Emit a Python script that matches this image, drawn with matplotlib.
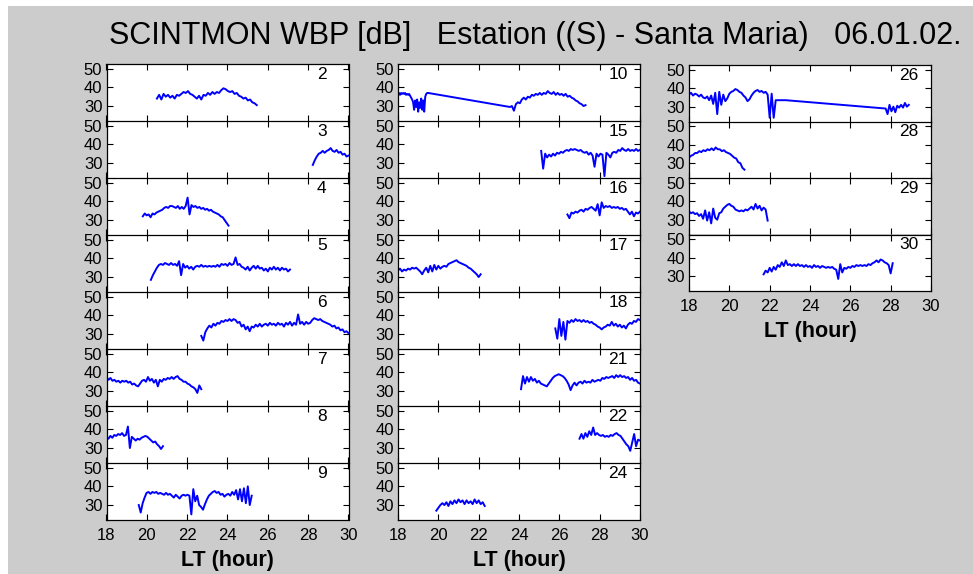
import numpy as np
import matplotlib
matplotlib.use('Agg')
from matplotlib import pyplot as plt
from matplotlib.patches import Rectangle

# SCINTMON WBP traces, one list of (t_start, t_end, dB values) segments per PRN
prn2 = [(20.5, 25.45, [34, 36, 33.5, 36.5, 35, 36, 34.5, 35.5, 34, 36, 35.5, 36.5, 37.5, 37, 38, 36.5, 36, 35,
                       34, 35.5, 33.5, 36, 35.5, 37, 36, 37.5, 36.5, 37.5, 37, 38.5, 39.5, 39, 38, 37.5, 38, 36.5,
                       37, 35.5, 35, 34, 34.5, 33, 33.5, 32, 31.5, 30.5])]
prn3 = [(28.23, 30.0, [29, 31.5, 33.5, 35, 35.5, 36.5, 35.5, 36.5, 37, 38, 36.5, 36, 37, 35.5, 36, 34.5, 35,
                       33.5, 34])]
prn4 = [(19.8, 24.05, [32, 33.5, 32.5, 33, 31.5, 33.5, 33, 34, 34.5, 35, 35.5, 36.5, 37, 36.5, 37.5, 37.5,
                       37, 36.5, 37.5, 36, 37, 36, 37.5, 42, 33, 38, 37, 37.5, 36.5, 37, 36, 36.5, 35.5, 36,
                       35, 35.5, 34.5, 34, 33.5, 33, 32, 31.5, 30, 28.5, 27])]
prn5 = [(20.2, 27.1, [28.5, 31, 33, 35, 36.5, 37, 36.5, 37.5, 37, 36.5, 37.5, 36.5, 37, 36, 38.5, 31, 37, 35,
                      36, 34.5, 35.5, 34, 35.5, 36, 35.5, 36.5, 35.5, 36, 35.5, 36, 35.5, 36, 35.5, 36.5,
                      35.5, 37, 36.5, 37, 36, 37.5, 36.5, 37, 40.5, 36.5, 37, 35.5, 35, 34, 35.5, 33.5, 35,
                      36, 34.5, 36, 34.5, 35, 33.5, 34.5, 33, 35, 34, 35.5, 34, 35, 33.5, 35, 34, 34.5,
                      33, 34])]
prn6 = [(22.7, 30.0, [29, 26.5, 31, 33, 34.5, 33.5, 35.5, 34.5, 36, 35.5, 37, 36.5, 37.5, 37, 38, 37, 38,
                      37.5, 36, 36.5, 34, 35, 32.5, 34, 31.5, 34, 33.5, 35, 34, 35.5, 34, 35, 35.5, 34.5,
                      36, 35, 35.5, 34.5, 36, 35, 35.5, 34, 36, 35, 36.5, 34.5, 36, 35, 40.5, 35.5, 36.5,
                      35, 36.5, 35.5, 36, 37.5, 38.5, 38, 37.5, 38, 37, 36.5, 36, 35.5, 35, 34, 34.5, 33,
                      33.5, 32, 32.5, 31, 31.5, 30.5])]
prn7 = [(18.0, 22.7, [37.5, 36, 37, 35.5, 36, 35, 35.5, 34.5, 35.5, 35, 35.5, 34.5, 35, 33.5, 34, 33, 32.5,
                      34, 35.5, 36, 35, 37.5, 35.5, 36.5, 34.5, 36, 32.5, 36, 35, 36.5, 36, 37, 36.5, 37.5,
                      36.5, 37.5, 38, 36.5, 36, 35, 35, 34, 33.5, 32.5, 32, 31, 29, 33, 31])]
prn8 = [(18.0, 20.8, [36, 35, 36.5, 35.5, 37, 36.5, 37.5, 37, 38, 36.5, 37, 41.5, 30, 36, 35, 34, 35, 34.5,
                      35.5, 36, 36.5, 36, 35, 34, 33, 33.5, 32, 31, 29.5, 31])]
prn9 = [(19.6, 25.2, [30, 26, 31, 34, 36.5, 37, 36, 37, 36.5, 37, 36, 36.5, 36, 35.5, 36.5, 35.5, 36, 35,
                      34, 35.5, 34.5, 33.5, 35, 35.5, 35, 35.5, 35, 25, 38.5, 32, 35, 30, 29, 27.5, 30.5,
                      33, 35, 36, 37, 37.5, 36.5, 37, 35.5, 36, 34.5, 35.5, 36, 35, 37, 35.5, 38, 33, 38.5,
                      32, 39, 31, 40, 30, 35])]
prn10 = [(18.0, 19.5, [36.5, 37, 36, 37, 36.5, 37, 36.5, 37, 36, 36.5, 36, 36.5, 35.5, 34.5, 33.5, 32, 28,
                       33, 29.5, 33.5, 27, 32, 29, 34, 28, 33, 27, 35, 36.5, 37, 37]),
         (23.55, 27.3, [29.5, 30, 27.5, 31, 32, 31.5, 33.5, 34.5, 33.5, 35, 34.5, 36, 35.5, 36.5, 36, 37, 36,
                        37, 36.5, 38, 37, 36.5, 37.5, 36, 37, 36, 36.5, 35.5, 36.5, 35, 35.5, 34.5, 34, 33,
                        32.5, 31.5, 31, 30, 30.5])]
prn15 = [(25.1, 30.0, [36.5, 27, 35, 33, 34.5, 33.5, 35, 34, 35.5, 35, 36, 35.5, 36.5, 37, 36.5, 37.5, 37,
                       37.5, 37, 36.5, 37, 36, 35.5, 36, 34.5, 35.5, 34, 28, 35, 33.5, 35, 34.5, 23, 35.5,
                       34.5, 33, 35.5, 36, 35.5, 37, 36.5, 38, 37, 36.5, 37.5, 36.5, 37, 36.5, 37.5, 36.5,
                       37])]
prn16 = [(26.4, 30.0, [33, 31, 34, 33.5, 34.5, 34, 35, 35.5, 34.5, 36, 35.5, 36.5, 37, 36, 35, 38.5, 32.5,
                       39.5, 36.5, 37.5, 37, 37.5, 36.5, 37, 36.5, 37, 36, 36.5, 35.5, 36, 34.5, 33, 34.5,
                       32, 34, 33.5, 34.5])]
prn17 = [(18.0, 22.1, [33.5, 34.5, 33, 34, 33.5, 34.5, 34, 35, 34.5, 35, 34, 33, 31.5, 33.5, 35, 32.5, 36,
                       33, 36.5, 34, 36, 34.5, 35.5, 36, 35.5, 37, 37.5, 38, 38.5, 39, 38, 37.5, 37, 36.5,
                       36, 35, 34.5, 33.5, 32.5, 31.5, 30, 31.5])]
prn18 = [(25.8, 30.0, [33, 27.5, 38, 29, 36.5, 27, 37, 36, 37.5, 36.5, 38, 37, 37.5, 36.5, 37.5, 36.5, 37,
                       36, 36.5, 35.5, 35, 34, 33.5, 32.5, 33.5, 34, 35, 34.5, 36.5, 34.5, 35.5, 34, 35,
                       33.5, 34.5, 33, 35, 36, 35.5, 37, 36.5, 38, 37.5])]
prn21 = [(24.1, 30.0, [31, 38, 34, 37.5, 35, 37.5, 35.5, 36.5, 34.5, 35.5, 34, 33.5, 33, 32.5, 34, 35.5, 37,
                       38, 38.5, 39, 38.5, 38, 37, 35.5, 33.5, 30.5, 33, 34.5, 33, 34.5, 35, 34, 35.5, 34.5,
                       35, 34.5, 36, 35, 35.5, 36, 35.5, 37, 36.5, 37.5, 37, 37.5, 38, 37, 38.5, 37.5, 38.5,
                       37.5, 38, 37, 37.5, 36, 37, 35.5, 36, 34.5, 34])]
prn22 = [(27.0, 30.0, [35, 37.5, 35, 38, 36, 39, 37, 41, 37, 38, 37, 36.5, 37, 36, 36.5, 36, 37, 36.5, 37.5,
                       38, 37, 36.5, 35, 33.5, 32, 31, 28.5, 33, 37.5, 31, 34.5, 34])]
prn24 = [(19.9, 22.3, [27, 28.5, 30, 31, 30, 31.5, 29.5, 32, 30.5, 32.5, 31, 33, 31.5, 32.5, 30.5, 32.5, 31,
                       32, 30.5, 33, 31, 32.5, 30.5, 31.5, 29.5])]
prn26 = [(18.0, 22.3, [36.5, 37.5, 36, 37, 36.5, 35.5, 36.5, 35, 34.5, 35.5, 33.5, 36, 31.5, 37.5, 26, 38,
                       31, 36.5, 33, 34.5, 37, 38, 38.5, 39.5, 39, 38, 37.5, 36, 35, 33, 34, 36, 37.5, 38.5,
                       39, 38, 38.5, 37.5, 38, 36.5, 24, 37, 24, 33.5]),
         (22.8, 22.8, [33.5]),
         (27.75, 28.9, [29, 26, 31, 27.5, 30, 27, 30.5, 29.5, 31, 29.5, 32, 30, 31])]
prn28 = [(18.0, 20.75, [33, 34, 34.5, 35.5, 35.5, 36.5, 36, 37, 36.5, 37.5, 37, 38, 37, 38.5, 37.5, 37.5,
                        36.5, 37, 36, 35.5, 35, 34, 33, 32.5, 30.5, 30, 27.5, 26.5])]
prn29 = [(18.0, 21.9, [34.5, 33.5, 34, 33, 33.5, 32, 33, 30.5, 35, 29.5, 34, 28, 36, 31, 30, 33.5, 34, 36,
                       37, 38, 38.5, 37.5, 37, 35.5, 35, 34.5, 35, 34.5, 35.5, 35, 36, 37, 35.5, 38.5, 36,
                       37.5, 35, 36.5, 35.5, 29.5])]
prn30 = [(21.7, 28.1, [31, 33, 32, 34.5, 32.5, 35, 33.5, 36, 35, 37.5, 35.5, 38.5, 36, 36.5, 35.5, 36.5,
                       35.5, 36.5, 35.5, 36, 35, 36, 35, 35.5, 34.5, 36, 35, 35.5, 34.5, 35.5, 35, 34.5, 35,
                       34.5, 35, 34, 33.5, 28.5, 36.5, 32, 34.5, 34, 35, 34.5, 35.5, 35, 36, 35.5, 36, 35.5,
                       36, 35.5, 36.5, 36, 37, 37.5, 38.5, 37.5, 39, 38.5, 37.5, 37, 36, 31.5, 37])]

col1 = [(2, prn2), (3, prn3), (4, prn4), (5, prn5), (6, prn6), (7, prn7), (8, prn8), (9, prn9)]
col2 = [(10, prn10), (15, prn15), (16, prn16), (17, prn17), (18, prn18), (21, prn21), (22, prn22), (24, prn24)]
col3 = [(26, prn26), (28, prn28), (29, prn29), (30, prn30)]

W, H = 973, 574
fig = plt.figure(figsize=(W / 100, H / 100), dpi=100, facecolor='white')
plt.rcParams['font.family'] = ['Liberation Sans', 'DejaVu Sans']

# grey figure panel (white strip on top and left edge)
fig.patches.append(Rectangle((8 / W, 0), 1 - 8 / W, 1 - 6 / H, transform=fig.transFigure,
                             facecolor='#cccccc', edgecolor='none', zorder=-10))


def px_axes(left, top, width, height):
    return fig.add_axes([left / W, 1 - (top + height) / H, width / W, height / H])


def draw_column(panels, left, top, height, width=242):
    axs = []
    for i, (prn, segs) in enumerate(panels):
        ax = px_axes(left, top + i * height, width, height)
        xs, ys = [], []
        for t0, t1, vals in segs:
            xs.append(np.linspace(t0, t1, len(vals)))
            ys.append(np.array(vals, dtype=float))
        ax.plot(np.concatenate(xs), np.concatenate(ys), color='#0000ff', lw=1.4)
        ax.set_xlim(18, 30)
        ax.set_ylim(22, 52.5)
        ax.set_xticks(range(18, 31, 2))
        ax.set_yticks([30, 40, 50])
        ax.tick_params(direction='in', top=True, right=True, length=4, width=0.8,
                       labelsize=12, pad=3)
        for s in ax.spines.values():
            s.set_linewidth(0.9)
        if i < len(panels) - 1:
            # the panel below draws this border with its top spine
            ax.spines['bottom'].set_visible(False)
            ax.tick_params(labelbottom=False)
        ax.text(0.87, 0.82, str(prn), transform=ax.transAxes, ha='left', va='center', fontsize=12.5)
        axs.append(ax)
    last = axs[-1]
    last.tick_params(axis='x', pad=6)
    last.set_xlabel('LT (hour)', fontsize=15.5, fontweight='bold', labelpad=5)
    return axs


draw_column(col1, 106.5, 64, 57)
draw_column(col2, 398, 64, 57)
draw_column(col3, 689, 65, 56.5)

fig.text(535 / W, 1 - 36 / H, 'SCINTMON WBP [dB]   Estation ((S) - Santa Maria)   06.01.02.',
         ha='center', va='center', fontsize=22)

fig.savefig('out.png', dpi=100, facecolor=fig.get_facecolor())
